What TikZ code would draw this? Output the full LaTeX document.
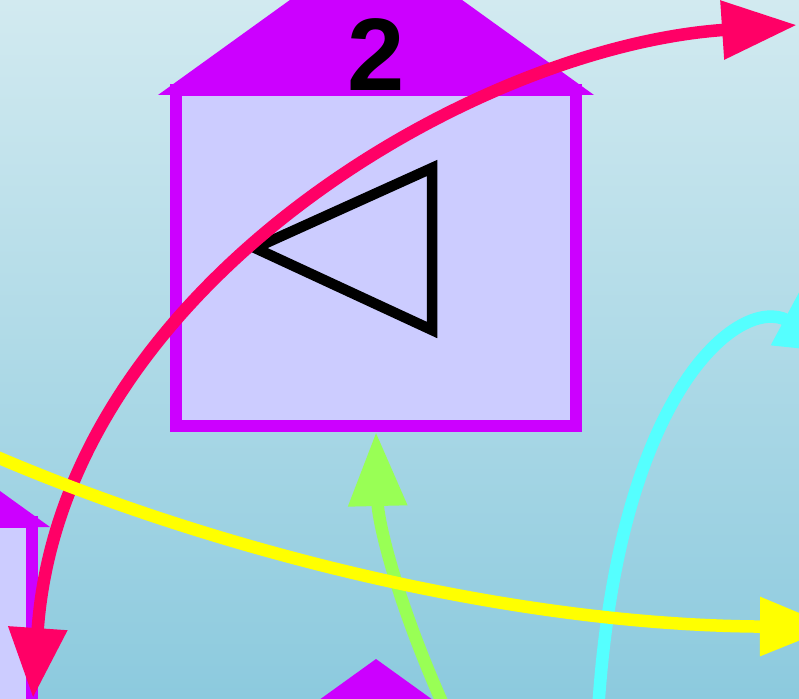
\documentclass[tikz,border=0pt]{standalone}
\usepackage{fontspec}
\usepackage{tikz}
\usetikzlibrary{arrows.meta,positioning,calc}
\newfontfamily\labelfont{Liberation Sans}
\definecolor{roofpurple}{HTML}{CC00FF}
\definecolor{wallfill}{HTML}{CCCCFF}
\definecolor{linkred}{HTML}{FF0066}
\definecolor{linkyellow}{HTML}{FFFF00}
\definecolor{linkgreen}{HTML}{99FF55}
\definecolor{linkcyan}{HTML}{55FFFF}
\definecolor{skytop}{RGB}{210,234,240}
\definecolor{skymid}{RGB}{192,226,234}
\definecolor{skybot}{RGB}{140,202,222}

\begin{document}
\begin{tikzpicture}[x=1pt,y=-1pt,
    house/.style={draw=roofpurple,fill=wallfill,line width=12pt,minimum width=400pt,minimum height=336pt,inner sep=0pt},
    link/.style={line width=12.5pt,-{Triangle[length=74pt,width=56pt]}}]
    \useasboundingbox (0,0) rectangle (799,698);
    \shade[top color=skytop,middle color=skymid,bottom color=skybot] (0,0) rectangle (799,698);
    \clip (0,0) rectangle (799,698);
    % houses, only number 2 fully in view
    \foreach \n/\cx/\cy in {1/-168/690, 2/376/258, 3/376/979}{
        \node[house] (h\n) at (\cx,\cy) {};
        \fill[roofpurple] (\cx-218,\cy-163) -- (\cx,\cy-320) -- (\cx+218,\cy-163) -- cycle;
    }
    \node[font=\labelfont\bfseries\fontsize{103}{103}\selectfont] (lbl2) at ($(h2.north)+(0,-29)$) {2};
    \draw[line width=10.5pt,miter limit=10] ($(h2)+(-121,-10)$) -- ($(h2)+(56,-90)$) -- ($(h2)+(56,72)$) -- cycle;
    % links
    \coordinate (redA) at (33,698);
    \coordinate (redB) at (797,25);
    \coordinate (cyA) at (598,712);
    \coordinate (cyB) at (850,354);
    \coordinate (grnA) at (450,720);
    \coordinate (yelA) at (-10,454);
    \coordinate (yelB) at (834,627);
    \draw[link,linkred,{Triangle[length=70pt,width=56pt]}-{Triangle[length=75pt,width=56pt]}] (redA) .. controls (61,290) and (470,47) .. (redB);
    \draw[link,linkcyan] (cyA) .. controls (618,390) and (740,295) .. (cyB);
    \draw[link,linkgreen] (grnA) .. controls (395,600) and (378,520) .. (h2.south);
    \draw[link,linkyellow] (yelA) .. controls (200,545) and (500,625) .. (yelB);
\end{tikzpicture}
\end{document}
